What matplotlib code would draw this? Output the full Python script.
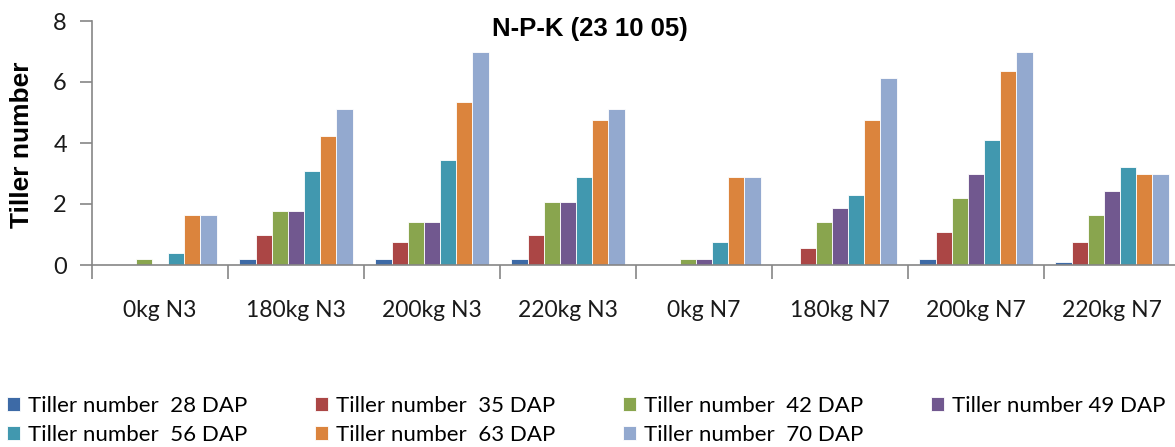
import numpy as np
import matplotlib.pyplot as plt

# Tratamientos (eje x) y número de macollos por fecha de muestreo
tratamientos = ["0kg N3", "180kg N3", "200kg N3", "220kg N3",
                "0kg N7", "180kg N7", "200kg N7", "220kg N7"]
series = ["Tiller number  28 DAP", "Tiller number  35 DAP", "Tiller number  42 DAP",
          "Tiller number 49 DAP", "Tiller number  56 DAP", "Tiller number  63 DAP",
          "Tiller number  70 DAP"]

dap28 = [0.0, 0.2, 0.2, 0.2, 0.0, 0.0, 0.2, 0.1]
dap35 = [0.0, 1.0, 0.75, 1.0, 0.0, 0.55, 1.07, 0.75]
dap42 = [0.2, 1.77, 1.42, 2.07, 0.2, 1.42, 2.2, 1.64]
dap49 = [0.0, 1.77, 1.42, 2.07, 0.2, 1.86, 3.0, 2.43]
dap56 = [0.4, 3.09, 3.44, 2.87, 0.75, 2.3, 4.1, 3.22]
dap63 = [1.63, 4.24, 5.33, 4.76, 2.87, 4.76, 6.35, 3.0]
dap70 = [1.63, 5.12, 7.0, 5.12, 2.87, 6.12, 7.0, 3.0]
valores = [dap28, dap35, dap42, dap49, dap56, dap63, dap70]

colores = ["#3d6aa6", "#ab4645", "#89a54e", "#71588f", "#4198af", "#db843d", "#93a9cf"]

fig = plt.figure(figsize=(11.75, 4.47), dpi=100)
ax = fig.add_axes([92 / 1175, (447 - 265) / 447, 1088 / 1175, 244 / 447])

x = np.arange(len(tratamientos))
ancho = 0.119
barras = []
for i, (nombre, vals) in enumerate(zip(series, valores)):
    b = ax.bar(x + (i - 3) * ancho, vals, ancho, color=colores[i],
               edgecolor="white", linewidth=0.6, label=nombre)
    barras.append(b)

ax.set_xlim(-0.5, len(tratamientos) - 0.5)
ax.set_ylim(0, 8)
ax.set_yticks([0, 2, 4, 6, 8])

# ticks mayores entre categorías, etiquetas en el centro
ax.set_xticks(np.arange(len(tratamientos) + 1) - 0.5)
ax.set_xticklabels([])
ax.set_xticks(x, minor=True)
ax.set_xticklabels(tratamientos, minor=True, fontsize=16.5, family="Lato", color="#1a1a1a")
ax.tick_params(axis="x", which="minor", length=0, pad=25)
ax.tick_params(axis="x", which="major", length=10, width=1.2, color="#868686")
ax.tick_params(axis="y", length=9, width=1.2, color="#868686", labelsize=17,
               labelcolor="#1a1a1a", pad=9)
for t in ax.get_yticklabels():
    t.set_family("Lato")

for s in ["top", "right"]:
    ax.spines[s].set_visible(False)
for s in ["left", "bottom"]:
    ax.spines[s].set_color("#868686")
    ax.spines[s].set_linewidth(1.2)

fig.text(22 / 1175, (447 - 145) / 447, "Tiller number", rotation=90, fontsize=19,
         fontweight="bold", family="Liberation Sans", ha="center", va="center")
fig.text(590 / 1175, (447 - 29) / 447, "N-P-K (23 10 05)", fontsize=18.5,
         fontweight="bold", family="Liberation Sans", ha="center", va="center")

# leyenda en dos filas, rellenada por columnas
orden = [0, 4, 1, 5, 2, 6, 3]
fig.legend([barras[i] for i in orden], [series[i] for i in orden],
           loc="upper left", bbox_to_anchor=(0.0, 1 - 389 / 447), ncol=4, frameon=False,
           prop={"family": "Lato", "size": 16}, handlelength=0.6, handleheight=0.6,
           handletextpad=0.35, columnspacing=3.05, labelspacing=0.42, borderaxespad=0.0,
           borderpad=0.3)

fig.savefig("out.png", dpi=100)
